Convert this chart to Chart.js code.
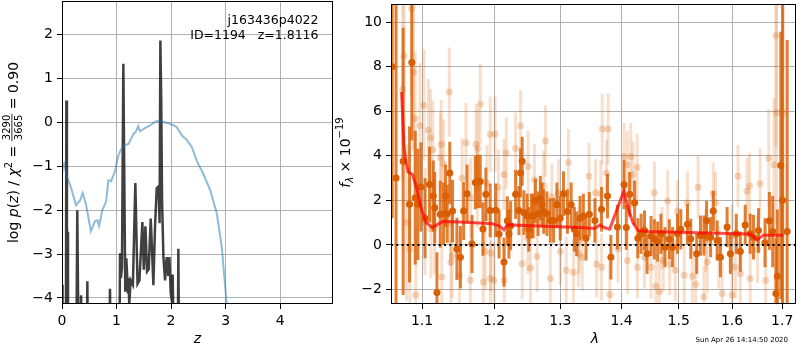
<!DOCTYPE html>
<html>
<head>
<meta charset="utf-8">
<script src="https://cdn.jsdelivr.net/npm/chart.js@4.4.1/dist/chart.umd.min.js"></script>
<style>
  html, body { margin: 0; padding: 0; background: #fff; }
  #wrap { position: relative; width: 800px; height: 350px; background: #fff; }
  .box { position: absolute; top: 0; height: 350px; }
</style>
</head>
<body>
<div id="wrap">
  <div class="box" style="left:0;width:340px"><canvas id="pz"></canvas></div>
  <div class="box" style="left:325px;width:475px"><canvas id="spec"></canvas></div>
</div>
<script>
// ---- left panel: redshift probability ----
const zTicks = [0, 1, 2, 3, 4]
const pzTicks = [-4, -3, -2, -1, 0, 1, 2]

const chi2Z = [0.0, 0.01, 0.04, 0.08, 0.147, 0.18, 0.257, 0.30, 0.33, 0.38, 0.44, 0.53, 0.605, 0.65, 0.68, 0.74, 0.81, 0.85, 0.9, 0.97, 1.03, 1.08, 1.14, 1.22, 1.31, 1.35, 1.40, 1.43, 1.52, 1.60, 1.68, 1.74, 1.86, 1.98, 2.10, 2.2, 2.29, 2.38, 2.47, 2.59, 2.72, 2.84, 2.93, 3.02, 3.06]
const chi2LogP = [-1.1, -1.0, -0.94, -1.2, -1.42, -1.55, -1.89, -1.82, -1.78, -1.61, -1.87, -2.48, -2.25, -2.23, -2.36, -2.0, -1.8, -1.32, -1.34, -1.12, -0.77, -0.62, -0.52, -0.49, -0.26, -0.22, -0.08, -0.2, -0.13, -0.08, -0.01, 0.03, 0.01, -0.03, -0.1, -0.3, -0.4, -0.56, -0.87, -1.17, -1.55, -2.08, -2.84, -4.13, -4.6]

const pzZ = [0.0, 0.01, 0.03, 0.07, 0.08, 0.09, 0.095, 0.11, 0.26, 0.28, 0.30, 0.33, 0.35, 0.37, 0.45, 0.465, 0.48, 0.86, 0.88, 0.90, 1.05, 1.064, 1.08, 1.10, 1.125, 1.16, 1.18, 1.21, 1.22, 1.233, 1.26, 1.30, 1.345, 1.385, 1.42, 1.474, 1.50, 1.53, 1.56, 1.59, 1.627, 1.65, 1.676, 1.706, 1.737, 1.77, 1.79, 1.804, 1.82, 1.835, 1.86, 1.89, 1.92, 1.95, 1.97, 1.995, 2.02, 2.03, 2.06, 2.12, 2.134, 2.15]
const pzLogP = [-3.7, -6, -6, -6, 0.5, -2.4, -2.5, -6, -6, -2.0, -4.6, -6, -3.94, -6, -6, -3.62, -6, -6, -3.79, -6, -6, -2.98, -3.55, -3.3, 1.34, -3.86, -3.1, -3.9, -3.55, -4.15, -3.6, -3.7, -1.38, -3.68, -3.6, -2.27, -3.36, -2.37, -3.4, -3.35, -2.19, -2.87, -3.71, -2.37, -1.5, -1.46, -2.3, 1.87, 0.47, -1.78, -3.07, -3.6, -3.07, -3.5, -3.07, -3.9, -4.1, -3.47, -6, -6, -2.88, -6]

// ---- right panel: spectrum ----
const lamTicks = [1.1, 1.2, 1.3, 1.4, 1.5, 1.6, 1.7]
const fluxTicks = [-2, 0, 2, 4, 6, 8, 10]
const lamMin = 1.0595
const lamMax = 1.7285

const darkLam = [1.0610, 1.0660, 1.0752, 1.0835, 1.0865, 1.0910, 1.0945, 1.0985, 1.1040, 1.1100,
  1.1150, 1.1170, 1.1200, 1.1245, 1.1290, 1.1317, 1.1340, 1.1375, 1.1413, 1.1473,
  1.1522, 1.1567, 1.1615, 1.1685, 1.1732, 1.1765, 1.1802, 1.1840, 1.1882, 1.1944,
  1.2025, 1.2073, 1.2145, 1.2194, 1.2218, 1.2243, 1.2317, 1.2366, 1.2391, 1.2415,
  1.2440, 1.2490, 1.2515, 1.2556, 1.2580, 1.2616, 1.2656, 1.2691, 1.2716, 1.2742,
  1.2792, 1.2844, 1.2895, 1.2947, 1.2999, 1.3051, 1.3113, 1.3172, 1.3224, 1.3261,
  1.3315, 1.3368, 1.3411, 1.3464, 1.3556, 1.3665, 1.3764, 1.3820, 1.3930, 1.4041,
  1.4080, 1.4137, 1.4222, 1.4278, 1.4335, 1.4393, 1.4438, 1.4508, 1.4566, 1.4624,
  1.4682, 1.4753, 1.4831, 1.4890, 1.4979, 1.5039, 1.5160, 1.5220, 1.5330, 1.5400,
  1.5465, 1.5514, 1.5590, 1.5640, 1.5714, 1.5777, 1.5904, 1.5967, 1.6082, 1.6160,
  1.6256, 1.6354, 1.6420, 1.6519, 1.6650, 1.6738, 1.6805, 1.6870, 1.6900, 1.6970,
  1.7006, 1.7101]
const darkFlux = [8.0, 3.0, 3.75, 1.82, 8.19, 2.12, 1.82, 2.6, 1.2, 2.71,
  2.19, 1.67, -2.13, 1.38, 1.4, 2.2, 1.4, 3.23, 1.52, -0.18,
  -0.55, 1.52, 2.3, 0.04, 2.8, 2.85, 2.85, 0.71, 2.27, 1.55,
  1.56, 0.49, -0.77, 1.08, 0.49, 0.86, 2.27, 1.54, 3.23, 3.75,
  1.45, 1.3, 0.7, 1.3, 1.3, 1.97, 1.4, 2.1, 1.8, 1.5,
  1.4, 1.1, 1.1, 1.8, 1.2, 2.3, 1.5, 1.8, 0.7, 0.5,
  1.2, 1.3, 0.3, 1.38, 1.1, 1.6, 2.19, -0.55, 0.8, 2.71,
  0.78, 2.27, 1.89, 0.3, 0.5, 0.65, -0.4, 0.4, 0.25, 0.15,
  0.5, -0.1, 0.25, -0.1, 0.5, 0.7, 0.93, 0.28, -0.4, 0.42,
  0.42, 1.08, 0.35, 1.52, 0.2, -0.55, 0.8, -0.4, 0.5, -0.3,
  0.9, 0.5, 0.35, 0.65, 0.1, 1.08, 0.6, -2.18, -1.41, 3.56,
  2.0, 0.6]
const darkErr = [6.8, 9.0, 6.0, 3.5, 3.5, 3.0, 2.5, 2.0, 1.8, 1.7,
  1.6, 1.6, 1.8, 1.5, 1.4, 1.4, 1.3, 1.4, 1.4, 1.4,
  1.4, 1.3, 1.3, 1.3, 1.2, 1.2, 1.2, 1.2, 1.2, 1.2,
  1.2, 1.1, 1.1, 1.1, 1.1, 1.1, 1.1, 1.1, 1.1, 1.1,
  1.0, 1.0, 1.0, 1.0, 1.0, 1.0, 1.0, 1.0, 1.0, 1.0,
  1.0, 1.0, 1.0, 1.0, 1.0, 1.0, 1.0, 1.0, 1.0, 1.0,
  1.0, 1.0, 1.0, 1.0, 1.0, 1.0, 1.0, 1.0, 1.0, 1.1,
  1.0, 1.0, 1.0, 0.9, 0.9, 0.9, 0.9, 0.9, 0.9, 0.9,
  0.9, 0.9, 0.9, 0.9, 0.9, 0.9, 0.9, 0.9, 0.9, 0.9,
  0.9, 0.9, 0.9, 0.9, 0.9, 0.9, 0.9, 0.9, 0.9, 0.9,
  0.9, 0.9, 1.0, 1.0, 1.1, 1.3, 1.6, 2.5, 3.0, 6.0,
  10.0, 8.6]

const lightLam = [1.0745, 1.0765, 1.0797, 1.0839, 1.0861, 1.0887, 1.0908, 1.0917, 1.0973, 1.1025,
  1.1038, 1.1084, 1.1114, 1.1120, 1.1145, 1.1167, 1.1245, 1.1258, 1.1266, 1.1290,
  1.1368, 1.1385, 1.1390, 1.1408, 1.1508, 1.1545, 1.1600, 1.1661, 1.1666, 1.1742,
  1.1760, 1.1770, 1.1802, 1.1845, 1.1873, 1.1897, 1.1944, 1.1948, 1.1953, 1.2001,
  1.2015, 1.2063, 1.2145, 1.2150, 1.2179, 1.2317, 1.2391, 1.2415, 1.2500, 1.2505,
  1.2541, 1.2600, 1.2641, 1.2742, 1.2768, 1.2844, 1.2869, 1.2973, 1.3000, 1.3093,
  1.3129, 1.3209, 1.3288, 1.3300, 1.3350, 1.3460, 1.3566, 1.3583, 1.3654, 1.3665,
  1.3676, 1.3747, 1.3774, 1.3802, 1.3940, 1.4041, 1.4097, 1.4100, 1.4155, 1.4193,
  1.4266, 1.4270, 1.4393, 1.4508, 1.4566, 1.4595, 1.4653, 1.4700, 1.4722, 1.4801,
  1.4838, 1.4938, 1.4979, 1.5101, 1.5160, 1.5250, 1.5311, 1.5355, 1.5465, 1.5500,
  1.5527, 1.5640, 1.5683, 1.5746, 1.5809, 1.5999, 1.6000, 1.6063, 1.6115, 1.6160,
  1.6289, 1.6341, 1.6354, 1.6500, 1.6551, 1.6664, 1.6725, 1.6831, 1.6870, 1.6885,
  1.7020]
const lightFlux = [7.0, 8.49, 1.0, -0.18, 10.6, 7.75, 5.67, -2.25, 5.35, 6.27,
  1.05, 5.15, 4.81, 0.71, 4.27, 0.78, 3.92, 4.52, -1.44, 3.63,
  6.86, 0.96, -0.77, -0.48, -1.36, 3.0, 4.58, -1.59, 2.12, 4.52,
  2.56, 4.34, 6.31, -1.66, -0.28, 2.78, 4.96, -1.51, -0.37, -1.6,
  4.98, 2.59, 3.16, -1.59, 4.12, 4.34, 5.35, -0.84, 0.3, 3.52,
  -1.04, 2.93, -0.52, 2.64, 4.67, -1.51, 2.16, 2.34, -0.3, -1.14,
  3.7, -1.22, -0.4, 0.2, -0.55, 3.08, 2.34, -0.85, 2.3, -1.0,
  5.2, 3.23, 5.2, -2.22, -0.18, 3.97, 3.6, -0.7, 3.97, 3.16,
  3.49, -1.0, -0.55, -1.0, 2.34, -1.85, -2.1, 0.3, -0.7, 1.97,
  -0.85, -1.14, 1.52, -1.36, 1.89, -1.4, -1.77, 2.59, -2.33, 0.2,
  -0.77, 2.31, 1.89, -0.55, -2.18, -2.25, 0.4, -1.0, 3.09, -1.29,
  2.41, 2.64, -1.51, -0.2, 2.74, -1.59, 3.89, 3.6, 9.4, 5.94,
  5.94]
const lightErr = [4.0, 4.0, 3.5, 3.2, 4.0, 3.5, 3.0, 3.0, 2.8, 2.5,
  2.4, 2.3, 2.2, 2.2, 2.2, 2.1, 2.0, 2.0, 2.0, 2.0,
  2.0, 1.9, 1.9, 1.9, 1.9, 1.8, 1.8, 1.8, 1.8, 1.8,
  1.8, 1.8, 1.8, 1.8, 1.7, 1.7, 1.7, 1.7, 1.7, 1.7,
  1.7, 1.7, 1.6, 1.6, 1.6, 1.6, 1.6, 1.6, 1.6, 1.6,
  1.6, 1.6, 1.6, 1.6, 1.6, 1.6, 1.5, 1.5, 1.5, 1.5,
  1.5, 1.5, 1.5, 1.5, 1.5, 1.5, 1.5, 1.5, 1.5, 1.5,
  1.6, 1.5, 1.6, 1.5, 1.5, 1.5, 1.5, 1.5, 1.5, 1.5,
  1.5, 1.4, 1.4, 1.4, 1.4, 1.4, 1.4, 1.4, 1.4, 1.4,
  1.4, 1.4, 1.4, 1.4, 1.4, 1.4, 1.4, 1.4, 1.4, 1.4,
  1.4, 1.4, 1.4, 1.4, 1.4, 1.4, 1.4, 1.4, 1.4, 1.4,
  1.5, 1.5, 1.5, 1.5, 1.6, 1.8, 2.2, 3.0, 5.0, 5.0,
  6.0]

const modelLam = [1.0731, 1.0761, 1.0787, 1.0817, 1.0874, 1.0934, 1.0992, 1.1057, 1.1137, 1.1198,
  1.1280, 1.1508, 1.1787, 1.1977, 1.2073, 1.2145, 1.2194, 1.2666, 1.3288, 1.3556,
  1.3637, 1.3708, 1.3800, 1.3912, 1.3995, 1.4036, 1.4108, 1.4193, 1.4278, 1.4450,
  1.5342, 1.6354, 1.6407, 1.6485, 1.6617, 1.7020]
const modelFlux = [6.86, 4.49, 3.75, 3.27, 3.16, 2.49, 1.6, 1.0, 0.78, 0.9,
  1.05, 1.03, 0.98, 0.95, 0.86, 0.68, 0.9, 0.85, 0.78, 0.74,
  0.89, 0.78, 0.71, 1.52, 2.12, 2.41, 1.67, 1.0, 0.65, 0.6,
  0.55, 0.49, 0.4, 0.22, 0.44, 0.44]

const FONT = 'DejaVu Sans'
const ORANGE = '217,95,2'

function fmtTick(v) {
  return v < 0 ? '\u2212' + Math.abs(v) : String(v)
}

function pairs(xs, ys) {
  return xs.map((x, i) => ({ x: x, y: ys[i] }))
}

// draws a row of text pieces, optionally rotated, centred on (cx, baseline)
function drawRich(ctx, parts, cx, cy, rotated) {
  const fontOf = p => (p.italic ? 'italic ' : '') + p.size + 'px "' + FONT + '"'
  let total = 0
  for (const p of parts) {
    ctx.font = fontOf(p)
    if (p.frac) {
      p.w = Math.max(ctx.measureText(p.frac[0]).width, ctx.measureText(p.frac[1]).width) + 2
    } else {
      p.w = ctx.measureText(p.t).width
    }
    total += p.w
  }
  ctx.save()
  ctx.translate(cx, cy)
  if (rotated) ctx.rotate(-Math.PI / 2)
  ctx.fillStyle = '#000'
  ctx.textBaseline = 'alphabetic'
  let x = -total / 2
  for (const p of parts) {
    ctx.font = fontOf(p)
    if (p.frac) {
      ctx.textAlign = 'center'
      ctx.fillText(p.frac[0], x + p.w / 2, -7.5)
      ctx.fillText(p.frac[1], x + p.w / 2, 4)
      ctx.fillRect(x, -6, p.w, 0.8)
    } else {
      ctx.textAlign = 'left'
      ctx.fillText(p.t, x, p.dy || 0)
    }
    x += p.w
  }
  ctx.restore()
}

function plainText(ctx, text, size, x, y) {
  ctx.save()
  ctx.fillStyle = '#000'
  ctx.font = size + 'px "' + FONT + '"'
  ctx.textAlign = 'right'
  ctx.textBaseline = 'alphabetic'
  ctx.fillText(text, x, y)
  ctx.restore()
}

// black box around the plot area plus the hand-set labels
function framePlugin(drawLabels) {
  return {
    id: 'frame',
    afterDraw(chart) {
      const a = chart.chartArea, ctx = chart.ctx
      ctx.save()
      ctx.strokeStyle = '#000'
      ctx.lineWidth = 1
      ctx.strokeRect(a.left + 0.5, a.top + 0.5, a.right - a.left - 1, a.bottom - a.top - 1)
      ctx.restore()
      drawLabels(ctx)
    }
  }
}

// vertical error bars, drawn just before each scatter dataset
const errorBars = {
  id: 'errorBars',
  beforeDatasetDraw(chart, args) {
    const ds = chart.data.datasets[args.index]
    if (!ds.errors) return
    const ctx = chart.ctx, xs = chart.scales.x, ys = chart.scales.y, a = chart.chartArea
    ctx.save()
    ctx.beginPath()
    ctx.rect(a.left, a.top, a.right - a.left, a.bottom - a.top)
    ctx.clip()
    ctx.strokeStyle = ds.errorColor
    ctx.lineWidth = 3
    ds.data.forEach((p, i) => {
      const px = xs.getPixelForValue(p.x)
      ctx.beginPath()
      ctx.moveTo(px, ys.getPixelForValue(p.y - ds.errors[i]))
      ctx.lineTo(px, ys.getPixelForValue(p.y + ds.errors[i]))
      ctx.stroke()
    })
    ctx.restore()
  }
}

function axisStyle(ticks, width, height, fmt) {
  return {
    afterBuildTicks: axis => { axis.ticks = ticks.map(v => ({ value: v })) },
    afterFit: axis => {
      if (width) axis.width = width
      if (height) axis.height = height
      axis.paddingTop = 0
      axis.paddingBottom = 0
      axis.paddingLeft = 0
      axis.paddingRight = 0
    },
    grid: { color: '#b0b0b0', lineWidth: 1, tickColor: '#000', tickLength: 5 },
    border: { display: false },
    ticks: { color: '#000', padding: 4, font: { family: FONT, size: 14 }, callback: fmt, maxRotation: 0, autoSkip: false }
  }
}

Chart.defaults.animation = false
Chart.defaults.plugins.legend.display = false
Chart.defaults.plugins.tooltip.enabled = false

new Chart(document.getElementById('pz'), {
  type: 'line',
  data: {
    datasets: [
      {
        data: pairs(pzZ, pzLogP),
        borderColor: 'rgba(0,0,0,0.75)',
        borderWidth: 2.5,
        pointRadius: 0,
        order: 2
      },
      {
        data: pairs(chi2Z, chi2LogP),
        borderColor: 'rgba(31,119,180,0.5)',
        borderWidth: 2,
        pointRadius: 0,
        order: 1
      }
    ]
  },
  options: {
    responsive: true,
    maintainAspectRatio: false,
    layout: { padding: { top: 1, right: 7, left: 0, bottom: 0 } },
    scales: {
      x: Object.assign({ type: 'linear', min: 0, max: 4.97 }, axisStyle(zTicks, 0, 46, fmtTick)),
      y: Object.assign({ type: 'linear', min: -4.14, max: 2.77 }, axisStyle(pzTicks, 62, 0, fmtTick))
    }
  },
  plugins: [framePlugin(ctx => {
    drawRich(ctx, [
      { t: 'log ', size: 14 },
      { t: 'p', size: 14, italic: true },
      { t: '(', size: 14 },
      { t: 'z', size: 14, italic: true },
      { t: ') / ', size: 14 },
      { t: '\u03c7', size: 14, italic: true },
      { t: '2', size: 10, dy: -6 },
      { t: ' = ', size: 14 },
      { frac: ['3290', '3665'], size: 10 },
      { t: ' = 0.90', size: 14 }
    ], 17.5, 152.5, true)
    drawRich(ctx, [{ t: 'z', size: 14, italic: true }], 197.5, 343, false)
    plainText(ctx, 'j163436p4022', 12.5, 318.5, 24)
    plainText(ctx, 'ID=1194   z=1.8116', 12.5, 318.5, 39)
  })]
})

new Chart(document.getElementById('spec'), {
  type: 'scatter',
  data: {
    datasets: [
      {
        data: pairs(lightLam, lightFlux),
        errors: lightErr,
        errorColor: 'rgba(' + ORANGE + ',0.2)',
        pointRadius: 3.5,
        pointBorderWidth: 0,
        pointBackgroundColor: 'rgba(' + ORANGE + ',0.25)',
        order: 4
      },
      {
        data: pairs(darkLam, darkFlux),
        errors: darkErr,
        errorColor: 'rgba(' + ORANGE + ',0.8)',
        pointRadius: 3.5,
        pointBorderWidth: 0,
        pointBackgroundColor: 'rgb(' + ORANGE + ')',
        order: 3
      },
      {
        type: 'line',
        data: pairs(modelLam, modelFlux),
        borderColor: 'rgba(255,0,0,0.7)',
        borderWidth: 3,
        pointRadius: 0,
        order: 2
      },
      {
        type: 'line',
        data: pairs([lamMin, lamMax], [0, 0]),
        borderColor: '#000',
        borderWidth: 2,
        borderDash: [2, 3.3],
        pointRadius: 0,
        order: 1
      }
    ]
  },
  options: {
    responsive: true,
    maintainAspectRatio: false,
    layout: { padding: { top: 1, right: 1, left: 0, bottom: 0 } },
    scales: {
      x: Object.assign({ type: 'logarithmic', min: lamMin, max: lamMax }, axisStyle(lamTicks, 0, 46, v => v.toFixed(1))),
      y: Object.assign({ type: 'linear', min: -2.65, max: 10.81 }, axisStyle(fluxTicks, 66, 0, fmtTick))
    }
  },
  plugins: [errorBars, framePlugin(ctx => {
    drawRich(ctx, [
      { t: 'f', size: 14, italic: true },
      { t: '\u03bb', size: 10, italic: true, dy: 3 },
      { t: ' \u00d7 10', size: 14 },
      { t: '\u221219', size: 10, dy: -7 }
    ], 25, 152.5, true)
    drawRich(ctx, [{ t: '\u03bb', size: 14, italic: true }], 270, 343, false)
    plainText(ctx, 'Sun Apr 26 14:14:50 2020', 7, 463, 342)
  })]
})
</script>
</body>
</html>
